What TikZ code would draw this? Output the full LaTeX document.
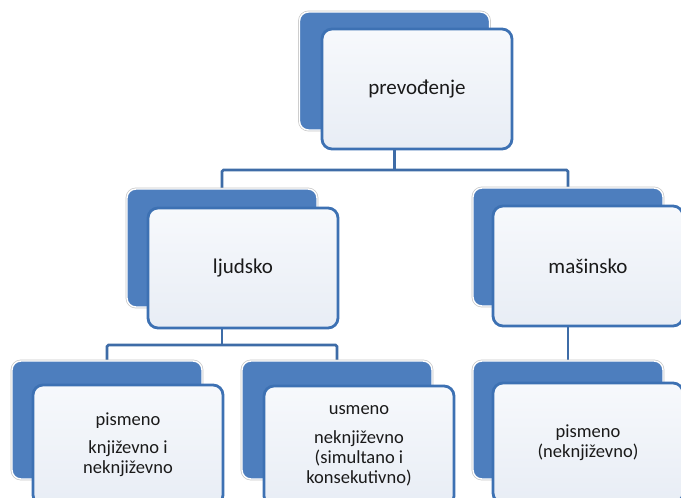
\documentclass[tikz,border=0pt]{standalone}
\usepackage{fontspec}
\setmainfont{Carlito}
\usetikzlibrary{backgrounds}
\definecolor{backblue}{HTML}{4D7EBE}
\definecolor{edgeblue}{HTML}{3D71B3}
\definecolor{linkblue}{HTML}{3E6CA7}
\definecolor{paneltop}{HTML}{F7F9FC}
\definecolor{panelbot}{HTML}{E8EDF5}
\definecolor{inktext}{HTML}{1A1A1A}
\tikzset{
  backbox/.style={rectangle, rounded corners=9pt, minimum width=190pt, minimum height=118pt,
    inner sep=0pt, outer sep=0pt, fill=backblue, draw=white, line width=1.4pt,
    preaction={draw=black!22, line width=2.8pt}},
  frontbox/.style={rectangle, rounded corners=10pt, minimum width=190pt, minimum height=120pt,
    inner sep=0pt, outer sep=0pt, top color=paneltop, bottom color=panelbot,
    draw=edgeblue, line width=2.8pt, text=inktext, align=center},
  bigtext/.style={font=\fontsize{21}{24}\selectfont},
  smalltext/.style={font=\fontsize{18.5}{20}\selectfont},
  link/.style={draw=linkblue, line width=2.8pt, rounded corners=1.5pt},
}
\begin{document}
\begin{tikzpicture}[x=1pt,y=-1pt]
\useasboundingbox (0,0) rectangle (681,498);
% back boxes
\node[backbox] (b0) at (394.5,71) {};
\node[backbox] (b1) at (222,248) {};
\node[backbox] (b2) at (568,247) {};
\node[backbox] (b3) at (107,420) {};
\node[backbox] (b4) at (337,420) {};
\node[backbox] (b5) at (568,420) {};
% front boxes
\node[frontbox,bigtext] (f0) at (417,89) {prevođenje};
\node[frontbox,bigtext] (f1) at (243,268) {ljudsko};
\node[frontbox,bigtext] (f2) at (588,266) {mašinsko};
\node[frontbox,smalltext] (f3) at (128,445) {pismeno\\[8pt]književno i\\neknjiževno};
\node[frontbox,smalltext] (f4) at (359,446) {usmeno\\[9pt]neknjiževno\\(simultano i\\konsekutivno)};
\node[frontbox,smalltext] (f5) at (588,443) {pismeno\\(neknjiževno)};
% junctions
\coordinate (j0) at (394.5,170);
\coordinate (j1) at (222,345);
\begin{scope}[on background layer]
  \fill[white] (0,0) rectangle (681,498);
  \draw[link] (f0.south -| j0) -- (j0);
  \draw[link] (b1.north) |- (j0) -| (b2.north);
  \draw[link] (f1.south -| j1) -- (j1);
  \draw[link] (b3.north) |- (j1) -| (b4.north);
  \draw[link] (f2.south -| b2) -- (b5.north);
\end{scope}
\end{tikzpicture}
\end{document}
